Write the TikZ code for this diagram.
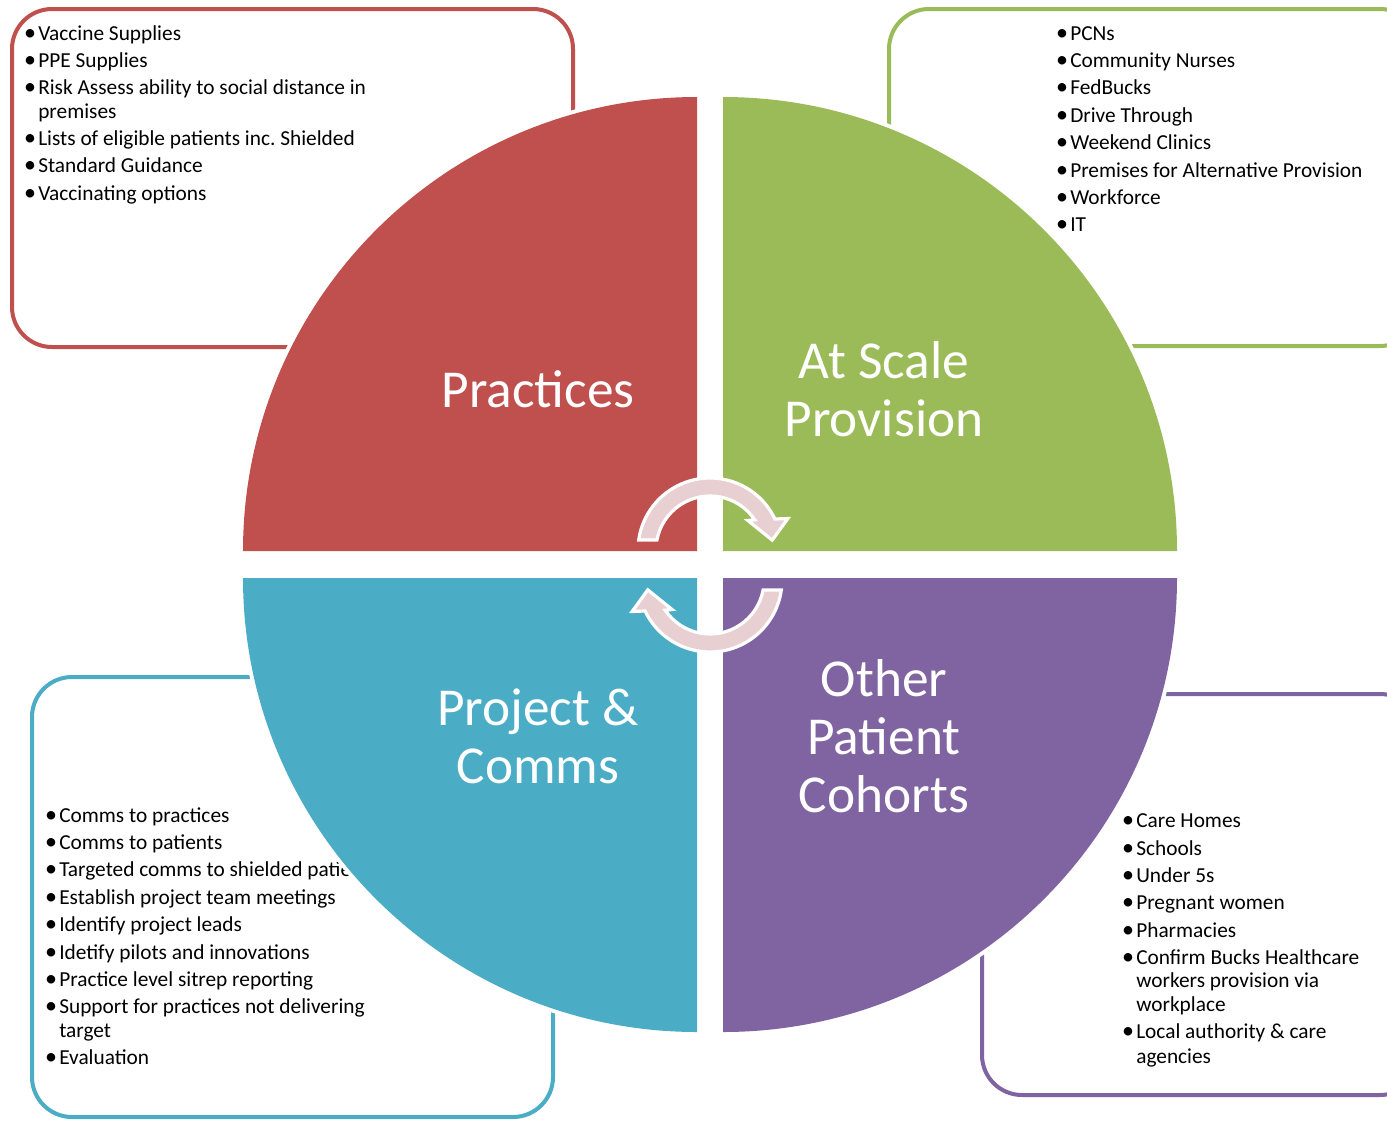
\documentclass[tikz,border=0pt]{standalone}
\usepackage{fontspec}
\setmainfont{Carlito}
\frenchspacing
\definecolor{cRed}{HTML}{C0504D}
\definecolor{cGreen}{HTML}{9BBB59}
\definecolor{cBlue}{HTML}{4BACC6}
\definecolor{cPurple}{HTML}{8064A2}
\definecolor{cArrow}{HTML}{E8D0D2}
% bullet + text line: name, x of text, baseline y, text
\newcommand\bitem[4]{%
  \node[dotmark] (#1b) at (#2-8,#3) {\textbullet};
  \node[itemtext] (#1) at (#2,#3) {#4};}
\newcommand\citem[4]{\node[itemtext] (#1) at (#2,#3) {#4};}
\begin{document}
\begin{tikzpicture}[x=0.75pt,y=-0.75pt,
  listbox/.style={line width=3pt, rounded corners=30pt},
  itemtext/.style={anchor=base west, inner sep=0pt, font=\fontsize{16}{18}\selectfont},
  dotmark/.style={anchor=base, inner sep=0pt, font=\fontsize{18}{18}\selectfont},
  bigtext/.style={anchor=base, inner sep=0pt, text=white, font=\fontsize{40}{44}\selectfont},
  halo/.style={white, line width=6pt},
  cyclearrow/.style={fill=cArrow, draw=white, line width=2.4pt, line join=miter}]
\clip (0,0) rectangle (1387,1121);
\fill[white] (0,0) rectangle (1387,1121);

% list frames
\draw[listbox, cRed]    (12,9)    rectangle (573,347);
\draw[listbox, cGreen]  (889,9)   rectangle (1420,346);
\draw[listbox, cBlue]   (32,677)  rectangle (553,1117);
\draw[listbox, cPurple] (982,694) rectangle (1420,1095);

% Practices list
\bitem{r1}{38}{40}{Vaccine Supplies}
\bitem{r2}{38}{67}{PPE Supplies}
\bitem{r3}{38}{94}{Risk Assess ability to social distance in}
\citem{r3c}{38}{118}{premises}
\bitem{r4}{38}{145}{Lists of eligible patients inc. Shielded}
\bitem{r5}{38}{172}{Standard Guidance}
\bitem{r6}{38}{200}{Vaccinating options}

% At scale list
\bitem{g1}{1070}{40}{PCNs}
\bitem{g2}{1070}{67}{Community Nurses}
\bitem{g3}{1070}{94}{FedBucks}
\bitem{g4}{1070}{122}{Drive Through}
\bitem{g5}{1070}{149}{Weekend Clinics}
\bitem{g6}{1070}{177}{Premises for Alternative Provision}
\bitem{g7}{1070}{204}{Workforce}
\bitem{g8}{1070}{231}{IT}

% Project & comms list
\bitem{b1}{59}{822}{Comms to practices}
\bitem{b2}{59}{849}{Comms to patients}
\bitem{b3}{59}{876}{Targeted comms to shielded patients}
\bitem{b4}{59}{904}{Establish project team meetings}
\bitem{b5}{59}{931}{Identify project leads}
\bitem{b6}{59}{959}{Idetify pilots and innovations}
\bitem{b7}{59}{986}{Practice level sitrep reporting}
\bitem{b8}{59}{1013}{Support for practices not delivering}
\citem{b8c}{59}{1037}{target}
\bitem{b9}{59}{1064}{Evaluation}

% Other cohorts list
\bitem{p1}{1136}{827}{Care Homes}
\bitem{p2}{1136}{855}{Schools}
\bitem{p3}{1136}{882}{Under 5s}
\bitem{p4}{1136}{909}{Pregnant women}
\bitem{p5}{1136}{937}{Pharmacies}
\bitem{p6}{1136}{964}{Confirm Bucks Healthcare}
\citem{p6c}{1136}{987}{workers provision via}
\citem{p6d}{1136}{1011}{workplace}
\bitem{p7}{1136}{1038}{Local authority \& care}
\citem{p7c}{1136}{1063}{agencies}

% white rims round the quarters
\draw[halo] (243,551) arc[start angle=180, end angle=270, radius=454];
\draw[halo] (723,97) arc[start angle=270, end angle=360, radius=454];
\draw[halo] (1177,578) arc[start angle=0, end angle=90, radius=454];
\draw[halo] (697,1032) arc[start angle=90, end angle=180, radius=454];

% quarters
\fill[cRed] (697,551) -- (243,551) arc[start angle=180, end angle=270, radius=454] -- cycle;
\fill[cGreen] (723,551) -- (723,97) arc[start angle=270, end angle=360, radius=454] -- cycle;
\fill[cPurple] (723,578) -- (1177,578) arc[start angle=0, end angle=90, radius=454] -- cycle;
\fill[cBlue] (697,578) -- (697,1032) arc[start angle=90, end angle=180, radius=454] -- cycle;

% quarter titles
\node[bigtext] (prac) at (538,407) {Practices};
\node[bigtext] (scale1) at (884,378) {At Scale};
\node[bigtext] (scale2) at (884,436) {Provision};
\node[bigtext] (proj1) at (538,725) {Project \&};
\node[bigtext] (proj2) at (538,783) {Comms};
\node[bigtext] (oth1) at (884,696) {Other};
\node[bigtext] (oth2) at (884,754) {Patient};
\node[bigtext] (oth3) at (884,812) {Cohorts};

% circular arrows in the middle
\begin{scope}[shift={(710,550)}, yscale=-1]
  \path[cyclearrow] (172:72) arc[start angle=172, end angle=25.5, radius=72]
    -- (22:84) -- (9:63) -- (38:48) -- (34:54)
    arc[start angle=34, end angle=169.3, radius=54] -- cycle;
\end{scope}
\begin{scope}[rotate around={180:(710,565)}]
\begin{scope}[shift={(710,550)}, yscale=-1]
  \path[cyclearrow] (172:72) arc[start angle=172, end angle=25.5, radius=72]
    -- (22:84) -- (9:63) -- (38:48) -- (34:54)
    arc[start angle=34, end angle=169.3, radius=54] -- cycle;
\end{scope}
\end{scope}
\end{tikzpicture}
\end{document}
